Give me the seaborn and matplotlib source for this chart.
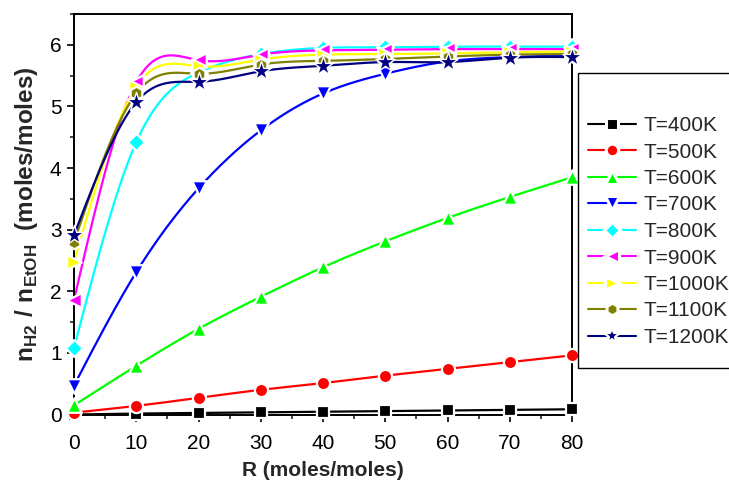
import numpy as np
import pandas as pd
import matplotlib
matplotlib.use("Agg")
import matplotlib.pyplot as plt
from matplotlib.lines import Line2D
from matplotlib.patches import Rectangle
from matplotlib.ticker import MultipleLocator
import seaborn as sns

# Molar ratio water/ethanol
R = [0, 10, 20, 30, 40, 50, 60, 70, 80]

# Hydrogen yield n_H2 / n_EtOH at each temperature
t400 = [0.0, 0.015, 0.025, 0.035, 0.045, 0.055, 0.065, 0.075, 0.085]
t500 = [0.03, 0.14, 0.27, 0.40, 0.51, 0.63, 0.74, 0.85, 0.96]
t600 = [0.15, 0.79, 1.39, 1.91, 2.39, 2.81, 3.19, 3.53, 3.85]
t700 = [0.47, 2.31, 3.67, 4.61, 5.21, 5.53, 5.73, 5.80, 5.83]
t800 = [1.08, 4.42, 5.55, 5.85, 5.95, 5.96, 5.97, 5.97, 5.97]
t900 = [1.86, 5.39, 5.75, 5.84, 5.91, 5.92, 5.93, 5.93, 5.93]
t1000 = [2.48, 5.32, 5.65, 5.76, 5.84, 5.85, 5.86, 5.88, 5.89]
t1100 = [2.80, 5.21, 5.53, 5.68, 5.74, 5.77, 5.81, 5.84, 5.85]
t1200 = [2.91, 5.07, 5.40, 5.57, 5.66, 5.72, 5.72, 5.79, 5.80]

labels = ["T=400K", "T=500K", "T=600K", "T=700K", "T=800K",
          "T=900K", "T=1000K", "T=1100K", "T=1200K"]
series = [t400, t500, t600, t700, t800, t900, t1000, t1100, t1200]
colors = ["#000000", "#FF0000", "#00FF00", "#0000FF", "#00FFFF",
          "#FF00FF", "#FFFF00", "#808000", "#000080"]
markers = ["s", "o", "^", "v", "D", "<", ">", "h", "*"]
msizes = [70, 90, 110, 110, 75, 110, 110, 95, 210]
edge_w = [1.6, 1.6, 1.6, 1.6, 1.6, 1.6, 1.6, 1.6, 1.0]
legend_ms = [8, 9, 10, 10, 8.5, 10, 10, 9, 12]


def natural_spline(x, y, xs):
    """Natural cubic spline through (x, y), evaluated at xs."""
    x = np.asarray(x, float)
    y = np.asarray(y, float)
    n = len(x)
    h = np.diff(x)
    A = np.zeros((n, n))
    b = np.zeros(n)
    A[0, 0] = A[-1, -1] = 1.0
    for i in range(1, n - 1):
        A[i, i - 1] = h[i - 1]
        A[i, i] = 2 * (h[i - 1] + h[i])
        A[i, i + 1] = h[i]
        b[i] = 6 * ((y[i + 1] - y[i]) / h[i] - (y[i] - y[i - 1]) / h[i - 1])
    M = np.linalg.solve(A, b)
    idx = np.clip(np.searchsorted(x, xs) - 1, 0, n - 2)
    x0, x1 = x[idx], x[idx + 1]
    hh = x1 - x0
    t0 = x1 - xs
    t1 = xs - x0
    return (M[idx] * t0 ** 3 / (6 * hh) + M[idx + 1] * t1 ** 3 / (6 * hh)
            + (y[idx] / hh - M[idx] * hh / 6) * t0
            + (y[idx + 1] / hh - M[idx + 1] * hh / 6) * t1)


sns.set_style("ticks")
plt.rcParams["font.family"] = ["Liberation Sans", "DejaVu Sans"]
plt.rcParams["mathtext.fontset"] = "custom"
plt.rcParams["mathtext.rm"] = "Liberation Sans"
plt.rcParams["mathtext.bf"] = "Liberation Sans:bold"

fig = plt.figure(figsize=(7.29, 4.83), dpi=100)
W, H = 729, 483
ax = fig.add_axes([74 / W, (H - 414.5) / H, (572 - 74) / W, (414.5 - 14) / H])

xs = np.linspace(R[0], R[-1], 400)
for vals, c, m, s, ew in zip(series, colors, markers, msizes, edge_w):
    curve = pd.DataFrame({"R": xs, "n": natural_spline(R, vals, xs)})
    sns.lineplot(data=curve, x="R", y="n", color=c, lw=1.6, ax=ax,
                 sort=False, legend=False)
    pts = pd.DataFrame({"R": R, "n": vals})
    sns.scatterplot(data=pts, x="R", y="n", color=c, marker=m, s=s,
                    edgecolor="white", linewidth=ew, ax=ax, legend=False,
                    zorder=3, clip_on=False)

ax.set_xlim(0, 80)
ax.set_ylim(0, 6.5)
ax.xaxis.set_major_locator(MultipleLocator(10))
ax.xaxis.set_minor_locator(MultipleLocator(5))
ax.yaxis.set_major_locator(MultipleLocator(1))
ax.yaxis.set_minor_locator(MultipleLocator(0.5))
ax.tick_params(which="major", direction="out", length=5, width=1.2,
               labelsize=15, colors="black", pad=4)
ax.tick_params(axis="x", which="major", pad=9)
ax.tick_params(which="minor", direction="out", length=3, width=1.2)
for sp in ax.spines.values():
    sp.set_linewidth(1.4)
    sp.set_color("black")

ax.set_xlabel("R (moles/moles)", fontsize=15, fontweight="bold", labelpad=6)
ax.set_ylabel(r"$\mathbf{n}_{\mathbf{H2}}\ \mathbf{/}\ \mathbf{n}_{\mathbf{EtOH}}$  (moles/moles)",
              fontsize=17.5, fontweight="bold", labelpad=7)

handles = [Line2D([], [], color=c, marker=m, markersize=ms, lw=1.5,
                  markeredgecolor="white", markeredgewidth=2.2 if m != "*" else 1.6)
           for c, m, ms in zip(colors, markers, legend_ms)]
fig.legend(handles, labels, loc="upper left",
           bbox_to_anchor=(588 / W, (H - 116) / H), frameon=False,
           fontsize=15, handlelength=2.3, handletextpad=0.35,
           labelspacing=0.36, borderpad=0, borderaxespad=0)
fig.patches.append(Rectangle((578 / W, (H - 368) / H), 200 / W, 295 / H,
                             transform=fig.transFigure, fill=False,
                             edgecolor="black", linewidth=1.0))

fig.savefig("out.png", dpi=100)
